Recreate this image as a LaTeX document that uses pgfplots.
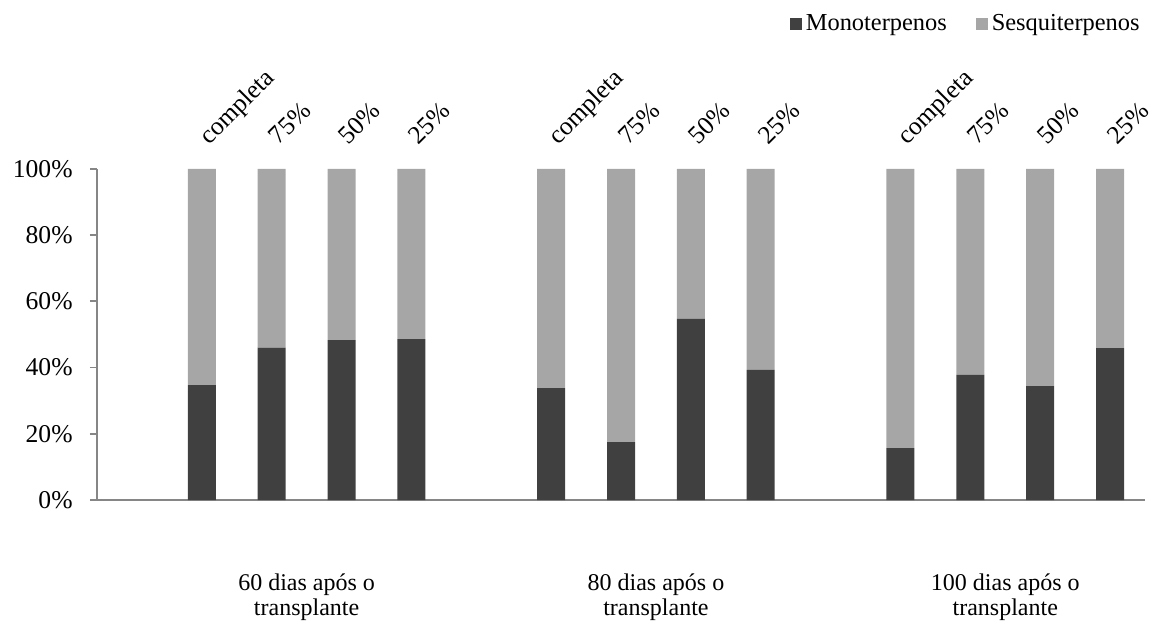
\documentclass[border=0pt]{standalone}
\usepackage{pgfplots}
\pgfplotsset{compat=1.18}
\usepackage{pgfplotstable}
\usepackage{fontspec}
\setmainfont{Liberation Serif}

\definecolor{mono}{HTML}{404040}
\definecolor{sesq}{HTML}{A6A6A6}
\definecolor{axisgray}{HTML}{868686}

% position, monoterpenos, sesquiterpenos (percent of total)
\pgfplotstableread{
x   mono  sesq
1   34.7  65.3
2   46.0  54.0
3   48.3  51.7
4   48.6  51.4
6   33.8  66.2
7   17.5  82.5
8   54.7  45.3
9   39.3  60.7
11  15.7  84.3
12  37.8  62.2
13  34.4  65.6
14  45.9  54.1
}\terpenos

\begin{document}
\fontsize{12}{12.5}\selectfont
\begin{tikzpicture}
\path[use as bounding box] (0,0) rectangle (579.5pt,313pt);
\begin{axis}[
  at={(48.5pt,63pt)}, anchor=south west,
  scale only axis, width=524pt, height=165.5pt,
  ybar stacked, bar width=14pt,
  xmin=-0.5, xmax=14.5, ymin=0, ymax=100,
  xtick=\empty,
  ytick={0,20,40,60,80,100},
  yticklabel={\pgfmathprintnumber{\tick}\%},
  /pgf/number format/assume math mode=true,
  yticklabel style={font=\fontsize{12.8}{13}\selectfont, xshift=-4.5pt},
  axis lines=left,
  axis line style={draw=axisgray, line width=0.9pt, -},
  tick align=outside, major tick length=3.5pt,
  tick style={draw=axisgray, line width=0.9pt},
  clip=false,
  legend columns=2,
  legend style={at={(0.999,1.48)}, anchor=north east, draw=none, fill=none,
    font=\fontsize{12.2}{12.5}\selectfont, inner sep=0pt,
    /tikz/every even column/.append style={column sep=12.5pt}},
  legend image code/.code={\fill[#1] (0pt,-3pt) rectangle (6pt,3pt);},
  legend cell align=left,
]
\addplot[fill=mono, draw=none] table[x=x, y=mono] {\terpenos};
\addplot[fill=sesq, draw=none] table[x=x, y=sesq] {\terpenos};
\legend{Monoterpenos, Sesquiterpenos}

% treatment labels above the bars
\foreach \p/\t in {1/completa,2/75\%,3/50\%,4/25\%,6/completa,7/75\%,8/50\%,9/25\%,11/completa,12/75\%,13/50\%,14/25\%}{
  \edef\temp{\noexpand\node[rotate=45, anchor=base west, inner sep=0pt, font=\noexpand\fontsize{12.8}{13}\noexpand\selectfont] at ([xshift=3.5pt,yshift=11.5pt]axis cs:\p,100) {\t};}
  \temp
}

% group labels below the axis
\foreach \g/\d in {2.5/60,7.5/80,12.5/100}{
  \edef\temp{\noexpand\node[anchor=north, align=center, inner sep=0pt, yshift=-36.5pt] at (axis cs:\g,0) {\d\space dias após o\noexpand\\transplante};}
  \temp
}
\end{axis}
\end{tikzpicture}
\end{document}
